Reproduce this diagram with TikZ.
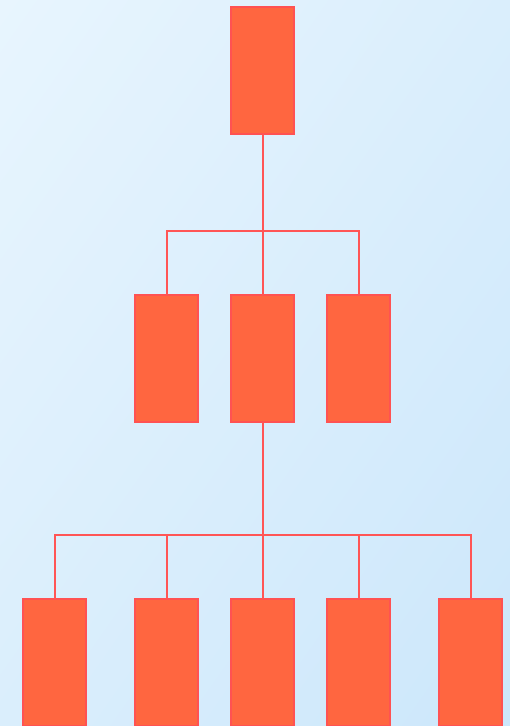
\documentclass[tikz,border=0pt]{standalone}
\usetikzlibrary{shadings}
\definecolor{boxfill}{HTML}{FF6640}
\definecolor{boxedge}{HTML}{FF5252}
\definecolor{wire}{HTML}{FF5555}
\definecolor{bgA}{HTML}{E8F5FE}
\definecolor{bgB}{HTML}{DAEEFC}
\definecolor{bgC}{HTML}{CCE7FB}
\tikzset{
  orgbox/.style={rectangle, fill=boxfill, draw=boxedge, line width=1.6pt,
    minimum width=63.4pt, minimum height=127.4pt, inner sep=0pt, outer sep=0pt},
  wire/.style={draw=wire, line width=2pt}
}
\begin{document}
\begin{tikzpicture}[x=1pt, y=-1pt]
  \useasboundingbox (0,0) rectangle (510,726);
  \clip (0,0) rectangle (510,726);
  \shade[upper left=bgA, upper right=bgB, lower left=bgB, lower right=bgC]
    (0,0) rectangle (510,726);

  % top level
  \node[orgbox] (t) at (262.5,70.5) {};
  % middle level
  \node[orgbox] (m1) at (166.5,358.5) {};
  \node[orgbox] (m2) at (262.5,358.5) {};
  \node[orgbox] (m3) at (358.5,358.5) {};
  % bottom level
  \node[orgbox] (b1) at (54.5,662.5) {};
  \node[orgbox] (b2) at (166.5,662.5) {};
  \node[orgbox] (b3) at (262.5,662.5) {};
  \node[orgbox] (b4) at (358.5,662.5) {};
  \node[orgbox] (b5) at (470.5,662.5) {};

  % branch points of the two connector trees
  \coordinate (j1) at (262.5,231);
  \coordinate (j2) at (262.5,535);

  \path[wire] (t.south) -- (j1);
  \path[wire] (j1) -| (m1.north);
  \path[wire] (j1) -- (m2.north);
  \path[wire] (j1) -| (m3.north);
  \path[wire] (m2.south) -- (j2);
  \path[wire] (j2) -| (b1.north);
  \path[wire] (j2) -| (b2.north);
  \path[wire] (j2) -- (b3.north);
  \path[wire] (j2) -| (b4.north);
  \path[wire] (j2) -| (b5.north);
\end{tikzpicture}
\end{document}
